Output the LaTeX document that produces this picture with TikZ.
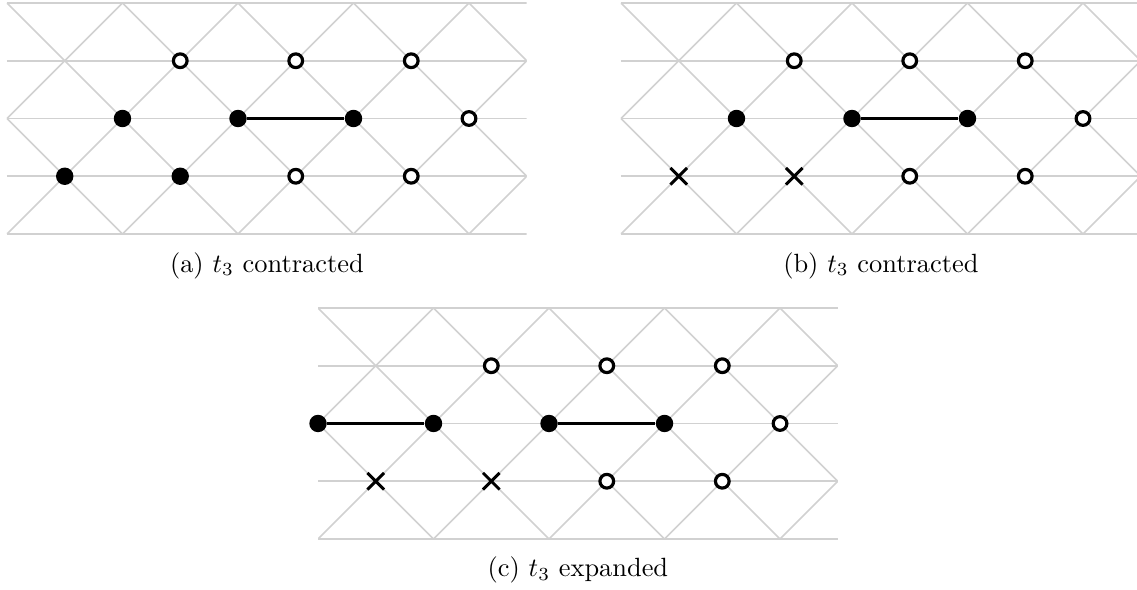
\documentclass[tikz,border=0pt]{standalone}
\usepackage{amsmath}
\usepackage{xcolor}
\usepackage{tikz}
\usetikzlibrary{shapes.misc}

\begin{document}
\begin{tikzpicture}[x=0.769cm,y=0.769cm,
	grid line/.style={black!18,line width=0.6pt},
	full/.style={circle,fill=black,inner sep=0pt,minimum size=6.6pt},
	empty/.style={circle,draw=black,fill=white,line width=1.2pt,inner sep=0pt,minimum size=5.2pt},
	gone/.style={cross out,draw=black,line width=1.1pt,inner sep=0pt,minimum size=5.2pt},
	bond/.style={black,line width=0.9pt}]
	\useasboundingbox (0,0) rectangle (19.688,-10.216);
	% the three lattices with their captions
	\foreach \p/\sx/\sy/\lab in {a/0.121/-0.052/{(a) $t_3$ contracted},b/10.753/-0.052/{(b) $t_3$ contracted},c/5.507/-5.333/{(c) $t_3$ expanded}}
	{
	\begin{scope}[shift={(\sx,\sy)}]
		\begin{scope}
		\clip (0,0.5) rectangle (9,-4.5);
		\foreach \y in {0,1,2,3,4}
		\draw[grid line] (0,-\y) -- (9,-\y);
		\foreach \x in {-4,-2,0,2,4,6,8}
		{
		\draw[grid line] (\x,0) -- (\x+4,-4);
		\draw[grid line] (\x,-4) -- (\x+4,0);
		}
		\end{scope}
		\node[anchor=base] (\p-cap) at (4.5,-4.658) {\lab};
		\foreach \i/\j in {3/1,5/1,7/1,8/2,5/3,7/3}
		\node[empty] (\p-\i-\j) at (\i,-\j) {};
	\end{scope}
	}
	% panel (a)
	\begin{scope}[shift={(0.121,-0.052)}]
		\foreach \i/\j in {2/2,4/2,6/2,1/3,3/3}
		\node[full] (a-\i-\j) at (\i,-\j) {};
	\end{scope}
	\draw[bond] (a-4-2) -- (a-6-2);
	% panel (b)
	\begin{scope}[shift={(10.753,-0.052)}]
		\foreach \i/\j in {2/2,4/2,6/2}
		\node[full] (b-\i-\j) at (\i,-\j) {};
		\foreach \i/\j in {1/3,3/3}
		\node[gone] (b-\i-\j) at (\i,-\j) {};
	\end{scope}
	\draw[bond] (b-4-2) -- (b-6-2);
	% panel (c)
	\begin{scope}[shift={(5.507,-5.333)}]
		\foreach \i/\j in {0/2,2/2,4/2,6/2}
		\node[full] (c-\i-\j) at (\i,-\j) {};
		\foreach \i/\j in {1/3,3/3}
		\node[gone] (c-\i-\j) at (\i,-\j) {};
	\end{scope}
	\draw[bond] (c-0-2) -- (c-2-2);
	\draw[bond] (c-4-2) -- (c-6-2);
\end{tikzpicture}
\end{document}
